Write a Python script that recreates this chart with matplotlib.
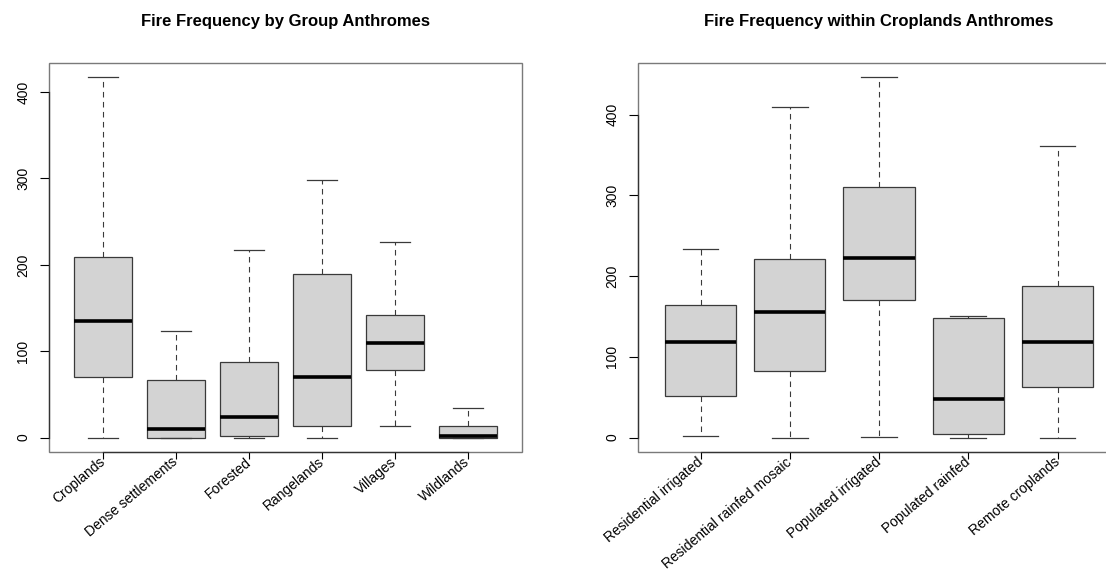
import matplotlib

matplotlib.use("Agg")
import matplotlib.pyplot as plt

# group anthromes (left panel)
group_labels = ["Croplands", "Dense settlements", "Forested", "Rangelands", "Villages", "Wildlands"]
group_low = [0, 0, 0, 0, 14, 0]
group_q1 = [70, 0, 2, 14, 78, 0]
group_med = [135, 10, 24, 70, 109, 2]
group_q3 = [209, 67, 88, 190, 142, 14]
group_high = [417, 123, 217, 298, 226, 34]

# croplands anthromes (right panel)
crop_labels = ["Residential irrigated", "Residential rainfed mosaic", "Populated irrigated",
               "Populated rainfed", "Remote croplands"]
crop_low = [2, 0, 1, 0, 0]
crop_q1 = [51, 83, 170, 5, 63]
crop_med = [118, 155, 223, 48, 118]
crop_q3 = [164, 221, 310, 148, 188]
crop_high = [234, 410, 446, 150, 361]

plt.rcParams["font.family"] = ["Liberation Sans", "DejaVu Sans"]


def draw_panel(axis, labels, low, q1, med, q3, high, title):
    stats = [
        {"label": lab, "whislo": lo, "q1": a, "med": m, "q3": b, "whishi": hi, "fliers": []}
        for lab, lo, a, m, b, hi in zip(labels, low, q1, med, q3, high)
    ]
    n = len(stats)
    axis.bxp(
        stats,
        positions=range(1, n + 1),
        widths=0.8,
        capwidths=0.4,
        patch_artist=True,
        showfliers=False,
        boxprops={"facecolor": "#d3d3d3", "edgecolor": "#3a3a3a", "linewidth": 0.9},
        medianprops={"color": "black", "linewidth": 2.6, "solid_capstyle": "butt"},
        whiskerprops={"color": "#3a3a3a", "linewidth": 0.8, "linestyle": (0, (5, 4))},
        capprops={"color": "#3a3a3a", "linewidth": 0.9},
    )
    # R pads both ranges by 4% on each side
    top = max(high)
    axis.set_ylim(-0.04 * top, top * 1.04)
    axis.set_xlim(0.5 - 0.04 * n, n + 0.5 + 0.04 * n)

    axis.set_yticks([0, 100, 200, 300, 400])
    axis.tick_params(axis="y", labelrotation=90, length=6.5, width=0.8, pad=7, labelsize=10)
    for lab in axis.get_yticklabels():
        lab.set_va("center")
    axis.tick_params(axis="x", length=5, width=0.8, pad=1, labelsize=10)
    axis.set_xticks(range(1, n + 1))
    axis.set_xticklabels(labels, rotation=40, ha="right", va="center", rotation_mode="anchor")

    # frame from the axes patch, axis lines only over the tick range (like R)
    axis.patch.set_edgecolor("#7a7a7a")
    axis.patch.set_linewidth(1.0)
    for side in ("top", "right"):
        axis.spines[side].set_visible(False)
    axis.spines["left"].set_bounds(0, 400)
    axis.spines["bottom"].set_bounds(1, n)
    for side in ("left", "bottom"):
        axis.spines[side].set_color("#333333")
        axis.spines[side].set_linewidth(0.9)

    axis.set_title(title, fontsize=12, fontweight="bold", pad=27)


fig = plt.figure(figsize=(11.06, 5.74), dpi=100)
ax_left = fig.add_axes([0.0443, 0.2125, 0.4277, 0.6777])
ax_right = fig.add_axes([0.5769, 0.2125, 0.4358, 0.6777])

draw_panel(ax_left, group_labels, group_low, group_q1, group_med, group_q3, group_high,
           "Fire Frequency by Group Anthromes")
draw_panel(ax_right, crop_labels, crop_low, crop_q1, crop_med, crop_q3, crop_high,
           "Fire Frequency within Croplands Anthromes")

fig.savefig("out.png", dpi=100)
plt.close(fig)
